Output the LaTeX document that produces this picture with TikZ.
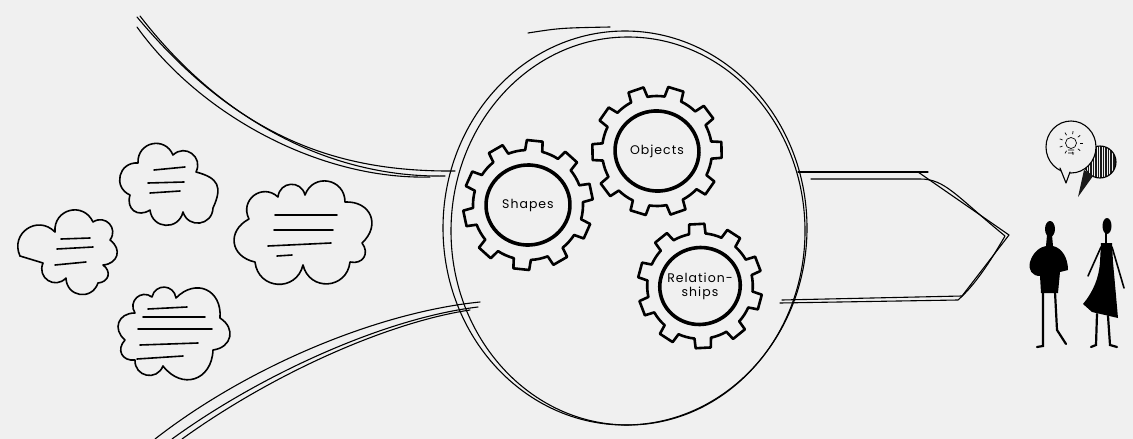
\documentclass[tikz,border=0pt]{standalone}
\usepackage{fontspec}
\usepackage{tikz}
\newfontfamily\gearfont[LetterSpace=8]{Poppins}
\definecolor{paper}{HTML}{F0F0F0}

\tikzset{
	sketch/.style={line width=1.1pt, line cap=round, line join=round},
	puffy/.style={sketch, line width=1.6pt, looseness=1.5},
	scribble/.style={sketch, line width=1.6pt},
	teeth/.style={line width=2.6pt, line join=round},
	hub/.style={line width=3.6pt},
	limb/.style={line width=2.2pt, line cap=round},
	gearlabel/.style={font=\gearfont\fontsize{12.5}{14}\selectfont, align=center, inner sep=0pt},
}

\begin{document}
\begin{tikzpicture}[x=1pt, y=-1pt]

	\fill[paper] (0,0) rectangle (1133,439);
	\useasboundingbox (0,0) rectangle (1133,439);

	% the clouds of loose ideas
	\draw[puffy] (138,163) to[bend left=80] (173,155) to[bend left=80] (196,172) to[bend left=50] (213,208) to[bend left=80] (183,212) to[bend left=80] (150,210) to[bend left=70] (130,195) to[bend left=80] (138,163);
	\draw[scribble] (154,170) -- (185,167);
	\draw[scribble] (148,183) -- (184,182);
	\draw[scribble] (150,193) -- (180,191);

	\draw[puffy] (55,232) to[bend left=80] (93,222) to[bend left=80] (110,240) to[bend left=70] (103,265) to[bend left=70] (98,283) to[bend left=80] (66,278) to[bend left=80] (43,263) -- (20,256) to[bend left=80] (55,232);
	\draw[scribble] (61,239) -- (90,238);
	\draw[scribble] (57,249) -- (93,247);
	\draw[scribble] (55,265) -- (86,262);

	\draw[puffy] (278,197) to[bend left=80] (305,195) to[bend left=80] (345,202) to[bend left=70] (362,243) to[bend left=70] (350,262) to[bend left=80] (303,265) to[bend left=80] (255,262) to[bend left=70] (249,219) to[bend left=80] (278,197);
	\draw[scribble] (275,215) -- (337,215);
	\draw[scribble] (274,230) -- (333,230);
	\draw[scribble] (268,246) -- (331,243);
	\draw[scribble] (277,256) -- (292,255);

	\draw[puffy] (152,297) to[bend left=80] (176,298) to[bend left=70] (220,318) to[bend left=70] (213,350) to[bend left=70] (163,366) to[bend left=80] (135,360) to[bend left=70] (125,340) to[bend left=70] (135,313) to[bend left=80] (152,297);
	\draw[scribble] (148,309) -- (187,307);
	\draw[scribble] (143,317) -- (205,317);
	\draw[scribble] (138,329) -- (212,329);
	\draw[scribble] (140,345) -- (198,343);
	\draw[scribble] (137,359) -- (183,356);

	% funnel into the big circle
	\draw[sketch] (137,17) .. controls (240,140) and (340,172) .. (455,171);
	\draw[sketch] (140,16) .. controls (220,120) and (330,178) .. (445,176);
	\draw[sketch] (137,27) .. controls (200,115) and (320,180) .. (430,177);
	\draw[sketch] (155,439) .. controls (250,365) and (380,312) .. (480,302);
	\draw[sketch] (172,439) .. controls (260,375) and (385,318) .. (478,307);
	\draw[sketch] (182,439) .. controls (275,372) and (390,322) .. (470,310);

	\draw[sketch] (625,228) ellipse [x radius=182, y radius=197];
	\draw[sketch] (628,231) ellipse [x radius=177, y radius=194];
	\draw[sketch] (528,33) .. controls (560,28) .. (610,27);

	\foreach \cx/\cy/\turn/\sz/\name/\txt in {528/205/3/1/shapes/Shapes, 657/151/-8/1/objects/Objects, 700/286/12/0.96/relships/{Relation-\\ships}} {
		\begin{scope}[shift={(\cx,\cy)}, rotate=\turn, scale=\sz]
			\draw[teeth] (0:55) \foreach \a in {0,36,...,324} { arc[start angle=\a, end angle=\a+18, radius=55] -- ({\a+20}:65) -- ({\a+34}:65) -- ({\a+36}:55) } -- cycle;
			\draw[hub] (0,0) ellipse [x radius=42, y radius=40];
			\node[gearlabel] (\name) at (0,0) {\txt};
		\end{scope}
	}

	% the arrow out to the people
	\draw[sketch] (798,172) -- (928,172);
	\draw[sketch] (918,172) -- (1009,235) -- (962,296) -- (782,300);
	\draw[sketch] (811,179) -- (920,179) .. controls (945,179) and (955,195) .. (1005,236) .. controls (990,262) and (975,285) .. (958,300) -- (780,303);

	% speech bubbles
	\begin{scope}
		\clip (1100,162) circle (16);
		\fill[black!90] (1100,162) circle (16);
		\foreach \x in {1087,1089.5,...,1114}
			\draw[paper, line width=0.35pt] (\x,144) -- (\x,180);
	\end{scope}
	\draw[sketch] (1100,162) circle (16);
	\fill[black!90] (1084,170) -- (1078,197) -- (1093,176) -- cycle;
	\filldraw[sketch, fill=paper] (1071,147) ellipse [x radius=25, y radius=26];
	\draw[sketch, fill=paper] (1060,168) -- (1066,183) -- (1070,172);
	\draw[line width=0.7pt] (1071,143) circle (5.5) (1068,150) -- (1074,150) (1068,153) -- (1074,153);
	\foreach \r in {0,40,...,320}
		\draw[line width=0.7pt] (1071,143) ++(\r:9) -- ++(\r:3);

	% two people listening
	\fill (1050,229) ellipse [x radius=5, y radius=8];
	\fill (1047,235) -- (1052,235) -- (1053,246) .. controls (1062,248) and (1068,258) .. (1068,270) -- (1060,272) -- (1058,293) -- (1041,293) -- (1040,276) .. controls (1032,276) and (1028,270) .. (1030,262) .. controls (1033,252) and (1040,247) .. (1046,246) -- cycle;
	\draw[limb] (1043,292) -- (1043,346) -- (1037,347);
	\draw[limb] (1055,292) -- (1057,330) -- (1066,344);

	\fill (1107,226) ellipse [x radius=4.5, y radius=8];
	\draw[limb] (1106,232) -- (1106,244);
	\fill (1101,243) -- (1112,243) -- (1113,262) -- (1118,318) -- (1092,312) -- (1083,304) .. controls (1093,292) and (1099,278) .. (1100,262) -- cycle;
	\draw[limb, line width=1.6pt] (1101,247) -- (1088,276);
	\draw[limb, line width=1.6pt] (1112,247) -- (1124,288);
	\draw[limb] (1097,314) -- (1096,345) -- (1091,347);
	\draw[limb] (1108,316) -- (1110,345) -- (1117,347);

\end{tikzpicture}
\end{document}
